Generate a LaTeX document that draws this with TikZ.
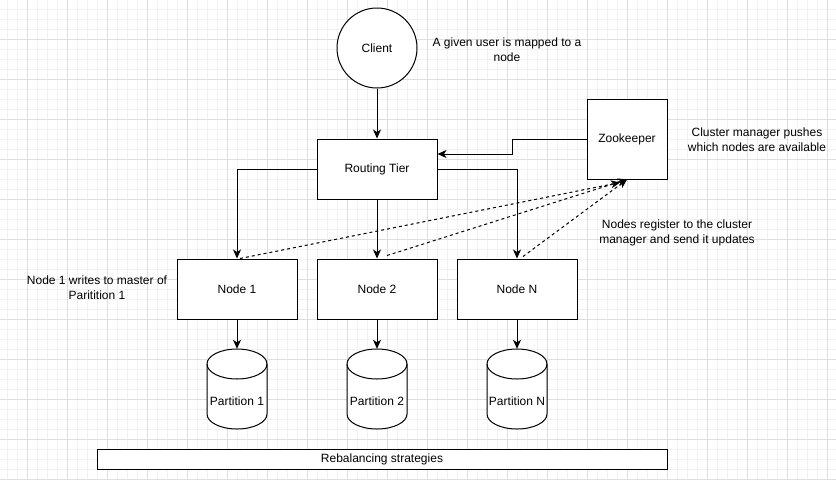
\documentclass[tikz,border=0pt]{standalone}
\usepackage{fontspec}
\setmainfont{Liberation Sans}
\usetikzlibrary{arrows.meta,calc}
\begin{document}
\begin{tikzpicture}[x=1pt,y=-1pt,
  every node/.style={font=\fontsize{12}{15}\selectfont},
  box/.style={draw,line width=1pt,rectangle,inner sep=0pt,fill=white},
  conn/.style={line width=1pt,-{Stealth[length=9pt,width=8pt,inset=2.5pt]}},
  dconn/.style={conn,dash pattern=on 3pt off 3pt},
  note/.style={align=center,inner sep=0pt},
  gmin/.style={line width=1pt,draw=black!5},
  gmaj/.style={line width=1pt,draw=black!13},
  cylline/.style={line width=1pt,draw=black,fill=white}]
\useasboundingbox (0,0) rectangle (836,480);
\fill[white] (0,0) rectangle (836,480);
% grid
\foreach \x in {7,17,...,835} \draw[gmin] (\x,0) -- (\x,480);
\foreach \y in {9,19,...,479} \draw[gmin] (0,\y) -- (836,\y);
\foreach \x in {27,67,...,827} \draw[gmaj] (\x,0) -- (\x,480);
\foreach \y in {39,79,...,479} \draw[gmaj] (0,\y) -- (836,\y);
% main nodes
\node[box,circle,minimum size=80pt] (cl) at (377,48) {Client};
\node[box,minimum width=120pt,minimum height=60pt] (rt) at (377,169) {Routing Tier};
\node[box,minimum width=80pt,minimum height=80pt] (zk) at (627,139) {Zookeeper};
\node[box,minimum width=120pt,minimum height=60pt] (n1) at (237,289) {Node 1};
\node[box,minimum width=120pt,minimum height=60pt] (n2) at (377,289) {Node 2};
\node[box,minimum width=120pt,minimum height=60pt] (nN) at (517,289) {Node N};
% cylinders
\foreach \c/\n/\t in {237/p1/Partition 1,377/p2/Partition 2,517/pN/Partition N}{
  \draw[cylline] (\c-30,364) -- (\c-30,414)
     arc[start angle=180,end angle=360,x radius=30pt,y radius=15pt]
     -- (\c+30,364)
     arc[start angle=0,end angle=180,x radius=30pt,y radius=15pt] -- cycle;
  \draw[line width=1pt] (\c-30,364)
     arc[start angle=180,end angle=360,x radius=30pt,y radius=15pt];
  \node[minimum width=60pt,minimum height=80pt,inner sep=0pt] (\n) at (\c,389) {};
  \node[note] (\n t) at (\c,401) {\t};
}
\node[box,minimum width=570pt,minimum height=20pt] (rb) at (382,459) {Rebalancing strategies};
% notes
\node[note] (t1) at (507,49.5) {A given user is mapped to a\\node};
\node[note] (t2) at (757,139.5) {Cluster manager pushes\\which nodes are available};
\node[note] (t3) at (677,232.5) {Nodes register to the cluster\\manager and send it updates};
\node[note] (t4) at (97,287.5) {Node 1 writes to master of\\Paritition 1};
% connectors
\draw[conn] (cl) -- (rt);
\draw[conn] (zk.west) -| (512,154) -- (rt.east |- 0,154);
\draw[conn] (rt.west) -| (n1.north);
\draw[conn] (rt.south) -- (n2.north);
\draw[conn] (rt.east) -| (nN.north);
\draw[dconn] ($(n1.north)+(3,0)$) -- ($(zk.south)+(-7,3)$);
\draw[dconn] ($(n2.north)+(10,-3)$) -- (zk.south);
\draw[dconn] ($(nN.north)+(6,-2)$) -- (zk.south);
\draw[conn] (n1.south) -- (p1.north);
\draw[conn] (n2.south) -- (p2.north);
\draw[conn] (nN.south) -- (pN.north);
\end{tikzpicture}
\end{document}
